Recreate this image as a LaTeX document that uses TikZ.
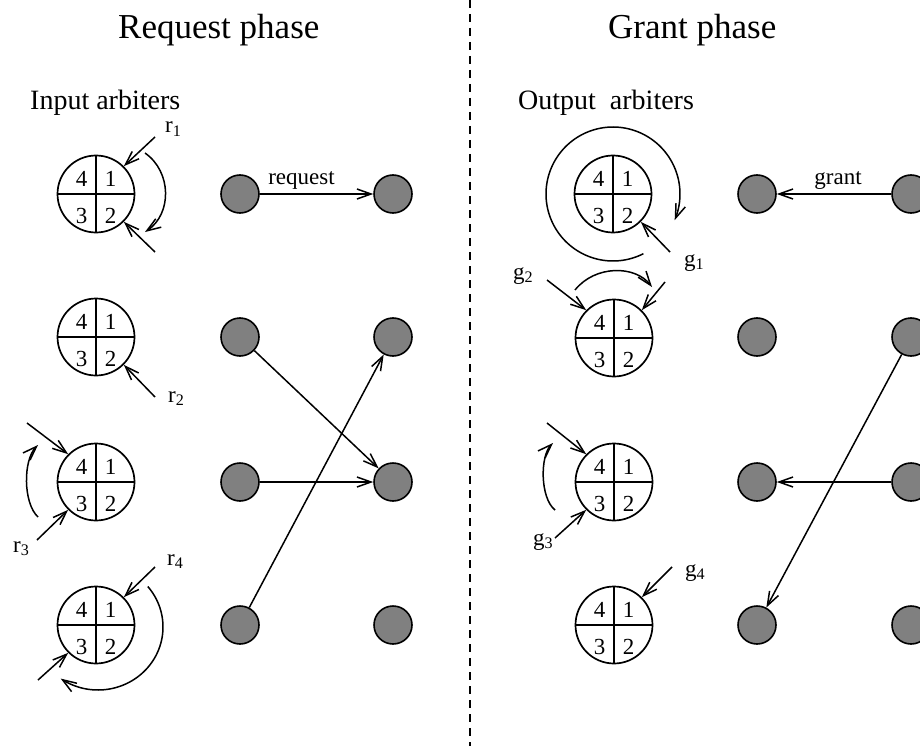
\documentclass[tikz,border=0pt]{standalone}
\usepackage{fontspec}
\setmainfont{Liberation Serif}
\usetikzlibrary{arrows.meta}

\definecolor{portgray}{RGB}{128,128,128}

\tikzset{
  arb/.style={circle, draw, line width=1.7pt, minimum size=77pt, inner sep=0pt,
    path picture={\draw[line width=1.6pt]
      (path picture bounding box.north) -- (path picture bounding box.south)
      (path picture bounding box.west) -- (path picture bounding box.east);}},
  port/.style={circle, draw, line width=1.6pt, fill=portgray, minimum size=38pt, inner sep=0pt},
  flow/.style={line width=1.5pt, -{Straight Barb[length=14pt,width=10pt,line width=1.5pt]}},
  digit/.style={inner sep=0pt, font=\fontsize{23}{26}\selectfont},
  sig/.style={inner sep=0pt, anchor=base west, font=\fontsize{23}{26}\selectfont},
  title/.style={inner sep=0pt, anchor=base west, font=\fontsize{35}{40}\selectfont},
  heading/.style={inner sep=0pt, anchor=base west, font=\fontsize{28}{32}\selectfont},
}

% a four-slot round-robin arbiter: circle split in quarters, slots 1..4
\newcommand\arbiternode[3]{%
  \node[arb] (#1) at (#2,#3) {};
  \path (#1) ++(-14.5,-15) node[digit] (#1-s4) {4};
  \path (#1) ++(14.5,-15)  node[digit] (#1-s1) {1};
  \path (#1) ++(-14.5,22)  node[digit] (#1-s3) {3};
  \path (#1) ++(14.5,22)   node[digit] (#1-s2) {2};
}

\begin{document}
\begin{tikzpicture}[x=1pt, y=-1pt]
\useasboundingbox (0,0) rectangle (920,746);

% phase divider
\coordinate (divtop) at (470,0);
\coordinate (divbot) at (470,746);
\draw[line width=1.1pt, dash pattern=on 8pt off 6pt] (divtop) -- (divbot);

% headings
\node[title] (reqtitle) at (118,39) {Request phase};
\node[title] (granttitle) at (608,39) {Grant phase};
\node[heading] (inhead) at (30,110) {Input arbiters};
\node[heading] (outhead) at (518,110) {Output\hspace{7pt} arbiters};

% ---------------- request phase ----------------
\arbiternode{ia1}{96}{194}
\arbiternode{ia2}{96}{337}
\arbiternode{ia3}{96}{482}
\arbiternode{ia4}{96}{625}

\foreach \r/\y in {1/194, 2/337, 3/482, 4/625} {
  \node[port] (in\r) at (240,\y) {};
  \node[port] (out\r) at (393,\y) {};
}

\draw[flow] (in1) -- node[sig, anchor=base, yshift=10pt, xshift=-15pt] (reqlbl) {request} (out1);
\draw[flow] (in2) -- (out3);
\draw[flow] (in3) -- (out3);
\draw[flow] (in4) -- (out2);

% input arbiter 1
\coordinate (r1a) at (155,137);
\coordinate (r1b) at (155,252);
\draw[flow] (r1a) -- (ia1.north east);
\draw[flow] (r1b) -- (ia1.south east);
\coordinate (c1s) at (145,153);
\coordinate (c1e) at (145,232);
\draw[flow] (c1s) .. controls (172,172) and (172,214) .. (c1e);
\node[sig] (r1) at (165,133) {r\textsubscript{1}};

% input arbiter 2
\coordinate (r2a) at (155,397);
\draw[flow] (r2a) -- (ia2.south east);
\node[sig] (r2) at (168,402) {r\textsubscript{2}};

% input arbiter 3
\coordinate (r3a) at (27,423);
\coordinate (r3b) at (37,540);
\draw[flow] (r3a) -- (ia3.north west);
\draw[flow] (r3b) -- (ia3.south west);
\coordinate (c3s) at (38,517);
\coordinate (c3e) at (38,445);
\draw[flow] (c3s) .. controls (23,503) and (23,460) .. (c3e);
\node[sig] (r3) at (13,552) {r\textsubscript{3}};

% input arbiter 4
\coordinate (r4a) at (155,567);
\coordinate (r4b) at (38,680);
\draw[flow] (r4a) -- (ia4.north east);
\draw[flow] (r4b) -- (ia4.south west);
\draw[flow] plot[domain=-40:125, samples=80] ({98+65*cos(\x)}, {627+63*sin(\x)});
\node[sig] (r4) at (167,565) {r\textsubscript{4}};

% ---------------- grant phase ----------------
\arbiternode{oa1}{613}{194}
\arbiternode{oa2}{614}{338}
\arbiternode{oa3}{614}{482}
\arbiternode{oa4}{614}{625}

\foreach \r/\y in {1/194, 2/337, 3/482, 4/625} {
  \node[port] (gin\r) at (757,\y) {};
  \node[port] (gout\r) at (911,\y) {};
}

\draw[flow] (gout1) -- node[sig, anchor=base, yshift=10pt, xshift=4pt] (grantlbl) {grant} (gin1);
\draw[flow] (gout2) -- (gin4);
\draw[flow] (gout3) -- (gin3);

% output arbiter 1
\coordinate (g1a) at (670,252);
\draw[flow] (g1a) -- (oa1.south east);
\draw[flow] plot[domain=63:383, samples=120] ({613+67*cos(\x)}, {194+67*sin(\x)});
\node[sig] (g1) at (684,266) {g\textsubscript{1}};

% output arbiter 2
\coordinate (g2a) at (547,280);
\coordinate (g2b) at (665,282);
\draw[flow] (g2a) -- (oa2.north west);
\draw[flow] (g2b) -- (oa2.north east);
\coordinate (c6s) at (575,290);
\coordinate (c6e) at (652,287);
\draw[flow] (c6s) .. controls (595,265) and (635,265) .. (c6e);
\node[sig] (g2) at (513,279) {g\textsubscript{2}};

% output arbiter 3
\coordinate (g3a) at (547,423);
\coordinate (g3b) at (555,538);
\draw[flow] (g3a) -- (oa3.north west);
\draw[flow] (g3b) -- (oa3.south west);
\coordinate (c7s) at (555,510);
\coordinate (c7e) at (553,443);
\draw[flow] (c7s) .. controls (540,498) and (540,456) .. (c7e);
\node[sig] (g3) at (533,545) {g\textsubscript{3}};

% output arbiter 4
\coordinate (g4a) at (672,567);
\draw[flow] (g4a) -- (oa4.north east);
\node[sig] (g4) at (685,576) {g\textsubscript{4}};

\end{tikzpicture}
\end{document}
